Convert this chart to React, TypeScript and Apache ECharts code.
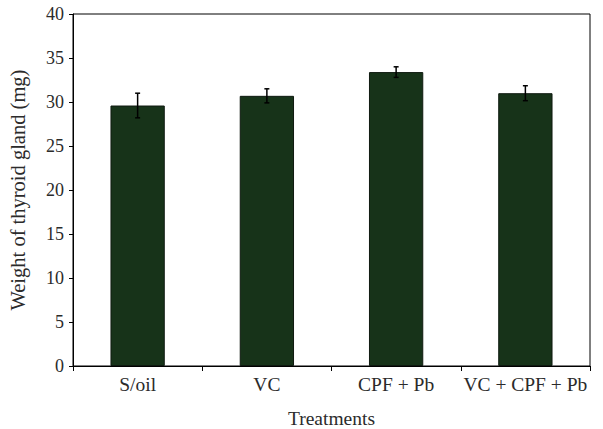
import React, { useEffect, useRef } from "react";
import * as echarts from "echarts";

const categories = ["S/oil", "VC", "CPF + Pb", "VC + CPF + Pb"];
const means = [29.6, 30.7, 33.4, 31.0];
const errors = [1.4, 0.8, 0.6, 0.85];
const yTicks = { min: 0, max: 40, interval: 5 };

const FONT = "'Liberation Serif', 'DejaVu Serif', serif";
const TEXT = "#2b2b2b";

export default function App() {
  const ref = useRef<HTMLDivElement>(null);
  useEffect(() => {
    if (!ref.current) return;
    const chart = echarts.init(ref.current, undefined, { renderer: "svg" });
    const errData = means.map((m, i) => [i, m - errors[i], m + errors[i]]);
    chart.setOption({
      animation: false,
      grid: {
        left: 73,
        right: 13,
        top: 14,
        bottom: 63,
        containLabel: false,
        outerBoundsMode: "none",
        show: true,
        borderColor: "#000",
        borderWidth: 1,
        backgroundColor: "transparent",
      },
      xAxis: {
        type: "category",
        data: categories,
        name: "Treatments",
        nameLocation: "middle",
        nameGap: 42,
        nameTextStyle: { fontFamily: FONT, fontSize: 19.5, color: TEXT },
        axisLine: { lineStyle: { color: "#000", width: 1 } },
        axisTick: { show: true, alignWithLabel: false, length: 5, lineStyle: { color: "#000" } },
        axisLabel: { fontFamily: FONT, fontSize: 19.5, color: TEXT, margin: 8, interval: 0 },
      },
      yAxis: {
        type: "value",
        min: yTicks.min,
        max: yTicks.max,
        interval: yTicks.interval,
        name: "Weight of thyroid gland (mg)",
        nameLocation: "middle",
        nameGap: 45,
        nameTextStyle: { fontFamily: FONT, fontSize: 20.5, color: TEXT },
        axisLine: { show: true, lineStyle: { color: "#000", width: 1 } },
        axisTick: { show: true, length: 4, lineStyle: { color: "#000" } },
        axisLabel: { fontFamily: FONT, fontSize: 18, color: TEXT, margin: 9 },
        splitLine: { show: false },
      },
      series: [
        {
          type: "bar",
          data: means,
          barWidth: "42%",
          itemStyle: { color: "#173319", borderColor: "#0f1a10", borderWidth: 1 },
        },
        {
          type: "custom",
          data: errData,
          z: 10,
          renderItem: (params: any, api: any) => {
            const x = api.value(0);
            const lo = api.coord([x, api.value(1)]);
            const hi = api.coord([x, api.value(2)]);
            const cap = 2.5;
            const style = { stroke: "#000", lineWidth: 1.5 };
            return {
              type: "group",
              children: [
                { type: "line", shape: { x1: lo[0], y1: lo[1], x2: hi[0], y2: hi[1] }, style },
                { type: "line", shape: { x1: hi[0] - cap, y1: hi[1], x2: hi[0] + cap, y2: hi[1] }, style },
                { type: "line", shape: { x1: lo[0] - cap, y1: lo[1], x2: lo[0] + cap, y2: lo[1] }, style },
              ],
            };
          },
        },
      ],
    });
    return () => chart.dispose();
  }, []);
  return <div ref={ref} style={{ width: 603, height: 429, position: "absolute", left: 0, top: 0 }} />;
}
